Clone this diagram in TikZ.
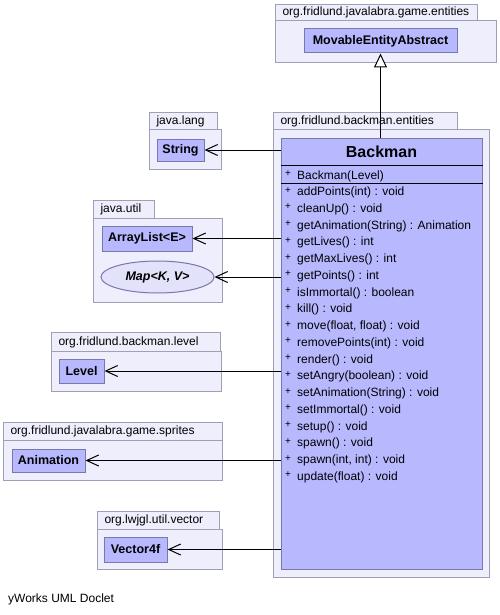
\documentclass[tikz,border=0pt]{standalone}
\usepackage{fontspec}
\setmainfont{Liberation Sans}
\usetikzlibrary{arrows.meta,shapes.geometric}
\definecolor{pkgfill}{RGB}{238,238,252}
\definecolor{pkgdraw}{RGB}{160,160,180}
\definecolor{clsfill}{RGB}{184,184,255}
\definecolor{clsdraw}{RGB}{120,120,170}
\definecolor{elfill}{RGB}{226,226,250}
\newcommand{\vis}{\makebox[12pt][l]{\raisebox{2.5pt}{\fontsize{10}{10}\selectfont +}}}
\begin{document}
\begin{tikzpicture}[x=1pt,y=-1pt,
  every node/.style={font=\fontsize{12}{14}\selectfont},
  pkgbody/.style={draw=pkgdraw, fill=pkgfill, line width=1pt, anchor=north west, inner sep=0pt},
  pkgtab/.style={draw=pkgdraw, fill=pkgfill, line width=1pt, anchor=north west, inner ysep=0pt, inner xsep=7pt, align=left},
  cls/.style={draw=clsdraw, fill=clsfill, line width=1pt, inner sep=0pt, font=\fontsize{12.5}{14}\selectfont\bfseries},
  iface/.style={ellipse, draw=clsdraw, fill=elfill, line width=1pt, inner sep=0pt, font=\fontsize{12.5}{14}\selectfont\bfseries\itshape},
  meth/.style={anchor=west, inner sep=0pt, text height=9pt, text depth=3pt},
  dep/.style={line width=1pt, -{Straight Barb[length=12pt,width=11pt,line width=1pt]}},
  inh/.style={line width=1pt, -{Triangle[fill=white,length=14pt,width=13pt,line width=1pt]}}
]
\useasboundingbox (0,0) rectangle (500,615);

% packages
\node[pkgbody, minimum width=221, minimum height=42] (entbody) at (275,20) {};
\node[pkgtab, minimum height=16, text width=188] (enttab) at (275,4) {org.fridlund.javalabra.game.entities};

\node[pkgbody, minimum width=216, minimum height=448] (bentbody) at (273,129) {};
\node[pkgtab, minimum height=17, text width=170] (benttab) at (273,112) {org.fridlund.backman.entities};

\node[pkgbody, minimum width=72, minimum height=40] (langbody) at (149,129) {};
\node[pkgtab, minimum height=17, text width=54] (langtab) at (149,112) {java.lang};

\node[pkgbody, minimum width=129, minimum height=84] (utilbody) at (93,218) {};
\node[pkgtab, minimum height=18, text width=47] (utiltab) at (93,200) {java.util};

\node[pkgbody, minimum width=170, minimum height=40] (levelbody) at (51,351) {};
\node[pkgtab, minimum height=19, text width=155] (leveltab) at (51,332) {org.fridlund.backman.level};

\node[pkgbody, minimum width=219, minimum height=40] (sprbody) at (3,440) {};
\node[pkgtab, minimum height=18, text width=205] (sprtab) at (3,422) {org.fridlund.javalabra.game.sprites};

\node[pkgbody, minimum width=125, minimum height=40] (vecbody) at (97,529) {};
\node[pkgtab, minimum height=18, text width=108] (vectab) at (97,511) {org.lwjgl.util.vector};

% classes
\node[cls, minimum width=153, minimum height=24] (mea) at (380.5,41) {MovableEntityAbstract};
\node[cls, minimum width=47, minimum height=22] (string) at (180.5,150) {String};
\node[cls, minimum width=90, minimum height=25] (alist) at (147,238.5) {ArrayList<E>};
\node[iface, minimum width=113, minimum height=32] (map) at (157.5,277) {Map<K, V>};
\node[cls, minimum width=45, minimum height=24] (level) at (81.5,371) {Level};
\node[cls, minimum width=73, minimum height=23] (anim) at (48.5,460.5) {Animation};
\node[cls, minimum width=63, minimum height=25] (vec) at (135.5,549.5) {Vector4f};

% Backman
\node[draw=clsdraw, fill=clsfill, line width=1pt, inner sep=0pt, minimum width=201, minimum height=431] (backman) at (381.5,353.5) {};
\node[font=\fontsize{16}{18}\selectfont\bfseries, inner sep=0pt] (title) at (381.5,152) {Backman};
\draw[line width=1pt] (backman.west |- 0,165) -- (backman.east |- 0,165);
\draw[line width=1pt] (backman.west |- 0,183) -- (backman.east |- 0,183);
\node[meth] (ctor) at (285,176) {\vis Backman(Level)};
\foreach[count=\i] \m in {addPoints(int) : void, cleanUp() : void, getAnimation(String) : Animation, getLives() : int, getMaxLives() : int, getPoints() : int, isImmortal() : boolean, kill() : void, {move(float, float) : void}, removePoints(int) : void, render() : void, setAngry(boolean) : void, setAnimation(String) : void, setImmortal() : void, setup() : void, spawn() : void, {spawn(int, int) : void}, update(float) : void}
  \node[meth] (m\i) at (285,{192.7+16.75*(\i-1)}) {\vis\m};

% connectors
\draw[inh] (mea.south |- backman.north) -- (mea.south);
\draw[dep] (backman.west |- string.east) -- (string.east);
\draw[dep] (backman.west |- alist.east) -- (alist.east);
\draw[dep] (backman.west |- map.east) -- (map.east);
\draw[dep] (backman.west |- level.east) -- (level.east);
\draw[dep] (backman.west |- anim.east) -- (anim.east);
\draw[dep] (backman.west |- vec.east) -- (vec.east);

\node[anchor=west, inner sep=0pt] (credit) at (8,599) {yWorks UML Doclet};
\end{tikzpicture}
\end{document}
